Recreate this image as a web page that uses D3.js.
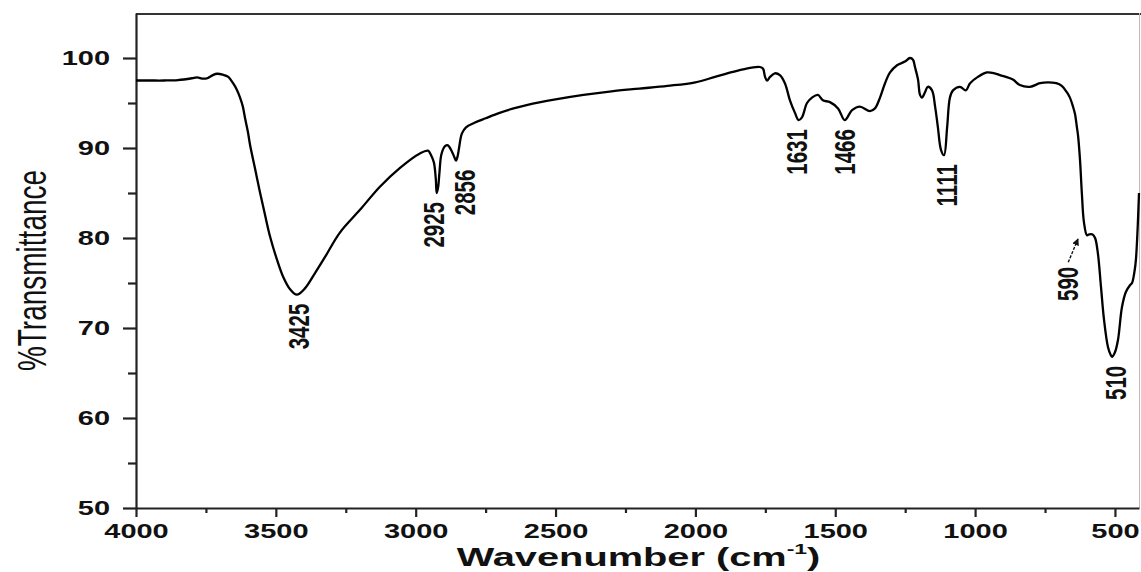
<!DOCTYPE html>
<html>
<head>
<meta charset="utf-8">
<script src="https://cdn.jsdelivr.net/npm/d3@7"></script>
<style>
  html, body { margin: 0; padding: 0; background: #fff; }
  svg { display: block; }
  text { font-family: "Liberation Sans", Arial, Helvetica, sans-serif; fill: #111; }
</style>
</head>
<body>
<svg id="chart" width="1141" height="572"></svg>
<script>
// FT-IR spectrum: wavenumber (cm^-1) and %Transmittance
const wavenumber = [
  4000, 3950, 3900, 3850, 3800, 3782, 3760, 3745, 3725, 3710, 3690, 3670,
  3653, 3640, 3628, 3618, 3610, 3600, 3592, 3575, 3557, 3539, 3521, 3496,
  3474, 3449, 3425, 3396, 3360, 3324, 3271, 3200, 3128, 3056, 2985, 2956,
  2945, 2935, 2928, 2925, 2920, 2915, 2908, 2895, 2885, 2872, 2862, 2856,
  2850, 2845, 2835, 2820, 2790, 2750, 2700, 2650, 2600, 2500, 2400, 2300,
  2200, 2100, 2000, 1930, 1866, 1805, 1769, 1758, 1751, 1744, 1733, 1716,
  1698, 1680, 1662, 1644, 1631, 1619, 1601, 1583, 1562, 1544, 1519, 1490,
  1466, 1440, 1412, 1376, 1358, 1340, 1322, 1304, 1279, 1251, 1233, 1222,
  1215, 1204, 1197, 1190, 1179, 1169, 1154, 1143, 1133, 1122, 1111, 1100,
  1090, 1079, 1054, 1033, 1018, 990, 958, 930, 911, 865, 840, 804,
  768, 740, 710, 690, 672, 661, 650, 643, 636, 632, 625, 618,
  611, 600, 592, 580, 571, 561, 550, 539, 525, 515, 510, 500,
  489, 475, 461, 445, 439, 430, 425, 419, 414
];
const transmittance = [
  97.5, 97.5, 97.5, 97.55, 97.75, 97.85, 97.7, 97.75, 98.1, 98.25, 98.15, 97.9,
  97.2, 96.5, 95.6, 94.6, 93.3, 91.8, 90.3, 87.8, 85.1, 82.6, 80.2, 77.6,
  75.7, 74.3, 73.7, 74.4, 76.1, 77.9, 80.6, 83.1, 85.7, 87.8, 89.4, 89.7,
  89.2, 88.4, 86.5, 85.0, 85.6, 87.3, 89.3, 90.2, 90.3, 89.7, 89.0, 88.6,
  89.1, 90.0, 91.6, 92.3, 92.8, 93.3, 93.9, 94.4, 94.8, 95.4, 95.9, 96.3,
  96.6, 96.9, 97.3, 97.9, 98.45, 98.9, 99.0, 98.8, 97.9, 97.5, 97.9, 98.3,
  98.1, 97.2, 95.3, 93.9, 93.1, 93.4, 95.0, 95.6, 95.9, 95.3, 95.1, 94.4,
  93.1, 94.2, 94.6, 94.1, 94.4, 95.6, 97.2, 98.4, 99.2, 99.6, 100.0, 99.8,
  99.0, 97.6, 95.9, 95.6, 96.2, 96.8, 96.4, 94.6, 92.3, 89.8, 89.2, 92.3,
  95.6, 96.4, 96.8, 96.4, 97.2, 97.9, 98.4, 98.3, 98.1, 97.6, 97.0, 96.8,
  97.2, 97.3, 97.2, 96.9, 96.2, 95.6, 94.6, 93.8, 92.3, 91.4, 88.7, 84.8,
  81.8, 80.3, 80.4, 80.4, 80.0, 78.3, 74.6, 70.9, 67.9, 67.0, 66.8, 67.3,
  68.7, 72.3, 74.0, 74.8, 75.0, 76.3, 77.6, 81.0, 85.0
];

// Labelled absorption bands
const peakLabels = ["3425", "2925", "2856", "1631", "1466", "1111", "590", "510"];
const peakWavenumber = [3425, 2925, 2856, 1631, 1466, 1111, 590, 510];
const peakTransmittance = [73.7, 85.0, 88.6, 93.1, 93.1, 89.2, 80.4, 66.8];

// Axis ticks
const xMajorTicks = [4000, 3500, 3000, 2500, 2000, 1500, 1000, 500];
const xMinorTicks = [3750, 3250, 2750, 2250, 1750, 1250, 750];
const yMajorTicks = [50, 60, 70, 80, 90, 100];
const yMinorTicks = [55, 65, 75, 85, 95];

// Layout
const W = 1141, H = 572;
const plot = { left: 136, right: 1139, top: 13, bottom: 508 };
const SX = 1.45; // horizontal glyph stretch used for all lettering

const svg = d3.select("#chart");

const x = d3.scaleLinear().domain([4000, 414]).range([plot.left, plot.right]);
const y = d3.scaleLinear().domain([50, 105]).range([plot.bottom, plot.top]);

// frame: top edge and a faint right edge
svg.append("line")
  .attr("x1", plot.left).attr("x2", W).attr("y1", plot.top + 1).attr("y2", plot.top + 1)
  .attr("stroke", "#333").attr("stroke-width", 2);
svg.append("line")
  .attr("x1", plot.right + 0.5).attr("x2", plot.right + 0.5)
  .attr("y1", plot.top).attr("y2", plot.bottom)
  .attr("stroke", "#bbb").attr("stroke-width", 1);

// y axis
const yAxis = svg.append("g")
  .attr("transform", `translate(${plot.left},0)`)
  .call(d3.axisLeft(y).tickValues(yMajorTicks).tickSize(13).tickSizeOuter(0).tickPadding(13));
svg.append("g")
  .attr("transform", `translate(${plot.left},0)`)
  .call(d3.axisLeft(y).tickValues(yMinorTicks).tickSize(8).tickSizeOuter(0).tickFormat(""))
  .select(".domain").remove();

// x axis
const xAxis = svg.append("g")
  .attr("transform", `translate(0,${plot.bottom})`)
  .call(d3.axisBottom(x).tickValues(xMajorTicks).tickSize(9).tickSizeOuter(0)
    .tickPadding(7).tickFormat(d3.format("d")));
svg.append("g")
  .attr("transform", `translate(0,${plot.bottom})`)
  .call(d3.axisBottom(x).tickValues(xMinorTicks).tickSize(5).tickSizeOuter(0).tickFormat(""))
  .select(".domain").remove();

svg.selectAll(".domain").attr("stroke", "#222").attr("stroke-width", 2.2);
svg.selectAll(".tick line").attr("stroke", "#222").attr("stroke-width", 2.2);

// tick labels: bold, widened
yAxis.selectAll(".tick text")
  .attr("font-size", 20).attr("font-weight", "bold").attr("font-family", null)
  .attr("transform", function () {
    const tx = +d3.select(this).attr("x");
    return `translate(${tx},0) scale(${SX},1)`;
  })
  .attr("x", 0);
xAxis.selectAll(".tick text")
  .attr("font-size", 20).attr("font-weight", "bold").attr("font-family", null)
  .attr("transform", `scale(${SX},1)`);
svg.selectAll(".tick text").attr("fill", "#111");

// spectrum
const line = d3.line()
  .x((d, i) => x(wavenumber[i]))
  .y((d, i) => y(transmittance[i]))
  .curve(d3.curveCatmullRom.alpha(0.5));

svg.append("path")
  .datum(wavenumber)
  .attr("d", line)
  .attr("fill", "none")
  .attr("stroke", "#000")
  .attr("stroke-width", 2.3)
  .attr("stroke-linejoin", "round");

// rotated, widened text helper
function vText(px, py, str, size, weight, anchor) {
  const g = svg.append("g").attr("transform", `translate(${px},${py}) scale(${SX},1)`);
  return g.append("text")
    .attr("transform", "rotate(-90)")
    .attr("text-anchor", anchor)
    .attr("dy", "0.36em")
    .attr("font-size", size)
    .attr("font-weight", weight)
    .text(str);
}

// band labels (text reads upward, starting just below the band minimum)
const labelShift = { "3425": 1.5, "2925": -3, "2856": 8, "1631": -2, "1466": 0, "1111": 2.5, "510": 3 };
peakLabels.forEach((lab, i) => {
  if (lab === "590") return;
  const px = x(peakWavenumber[i]) + labelShift[lab];
  const py = y(peakTransmittance[i]) + 9;
  vText(px, py, lab, 20.5, "bold", "end");
});

// the 590 shoulder is labelled off to the side with an arrow
const shoulderLabelPos = [670, 76.8];
const shoulderArrow = [[667, 77.3], [632, 79.9]];
vText(x(shoulderLabelPos[0]), y(shoulderLabelPos[1]), "590", 20.5, "bold", "end");

svg.append("defs").append("marker")
  .attr("id", "ah").attr("viewBox", "0 0 10 10").attr("refX", 9).attr("refY", 5)
  .attr("markerWidth", 5).attr("markerHeight", 5).attr("orient", "auto")
  .append("path").attr("d", "M0,0 L10,5 L0,10 z").attr("fill", "#111");
svg.append("line")
  .attr("x1", x(shoulderArrow[0][0])).attr("y1", y(shoulderArrow[0][1]))
  .attr("x2", x(shoulderArrow[1][0])).attr("y2", y(shoulderArrow[1][1]))
  .attr("stroke", "#111").attr("stroke-width", 1.4).attr("stroke-dasharray", "3,1.5")
  .attr("marker-end", "url(#ah)");

// axis titles
vText(31, (plot.top + plot.bottom) / 2 + 10, "%Transmittance", 28, "normal", "middle");

const xt = svg.append("g")
  .attr("transform", `translate(${(plot.left + plot.right) / 2 + 1},565.5) scale(1.53,1)`)
  .append("text")
  .attr("text-anchor", "middle")
  .attr("font-size", 26)
  .attr("font-weight", "bold");
xt.append("tspan").text("Wavenumber (cm");
xt.append("tspan").attr("dy", -12).attr("font-size", 15).text("-1");
xt.append("tspan").attr("dy", 12).text(")");
</script>
</body>
</html>
